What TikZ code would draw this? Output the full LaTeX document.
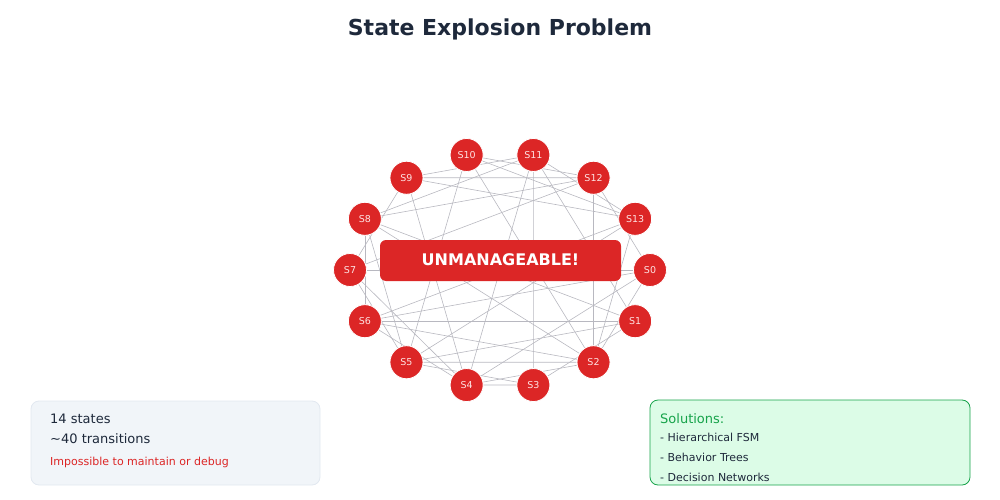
\documentclass[tikz,border=0pt]{standalone}
\usepackage{fontspec}
\setmainfont{DejaVu Sans}
\usetikzlibrary{backgrounds}
\definecolor{stred}{HTML}{DC2626}
\definecolor{titlec}{HTML}{1E293B}
\definecolor{edgec}{HTML}{B8B8C0}
\definecolor{lbfill}{HTML}{F1F5F9}
\definecolor{lbdraw}{HTML}{E2E8F0}
\definecolor{gfill}{HTML}{DCFCE7}
\definecolor{gdraw}{HTML}{16A34A}
\definecolor{stlab}{HTML}{FEE2E2}
\begin{document}
\begin{tikzpicture}[x=1pt,y=-1pt,
  st/.style={circle,fill=stred,draw=white,line width=0.8pt,minimum size=33pt,inner sep=0pt,text=stlab,font=\fontsize{9.5}{11}\selectfont},
  edge/.style={draw=edgec,line width=0.6pt},
  txt/.style={anchor=west,inner sep=0pt,text=titlec}]
\useasboundingbox (0,0) rectangle (1000,500);
\node[font=\fontsize{22}{26}\selectfont\bfseries,text=titlec] (title) at (500,29.5) {State Explosion Problem};
\foreach \k in {0,...,13}
  \node[st] (s\k) at ({500+150*cos(\k*360/14)},{270+118*sin(\k*360/14)}) {S\k};
\begin{scope}[on background layer]
\foreach \a/\b in {0/7,1/6,2/12,3/11,9/12,3/4,9/13,8/12,10/13,11/9,11/8,10/2,11/13,10/12,11/1,12/0,13/5,0/6,0/4,1/5,1/3,2/5,2/6,2/8,3/5,4/2,4/7,4/6,5/7,5/8,6/8,7/9,8/1,9/4,10/5,13/2,13/6,0/2,12/7,11/4}
  \draw[edge] (s\a) -- (s\b);
\end{scope}
\node[fill=stred,rounded corners=6pt,minimum width=241pt,minimum height=41pt,inner sep=0pt,text=white,font=\fontsize{16}{19}\selectfont\bfseries] (um) at (500.5,260.5) {\raisebox{1.5pt}{UNMANAGEABLE!}};
% left info box
\draw[fill=lbfill,draw=lbdraw,line width=0.8pt,rounded corners=8pt] (31,401) rectangle (320,485);
\node[txt,font=\fontsize{13}{15}\selectfont] (t1) at (50,418.5) {14 states};
\node[txt,font=\fontsize{13}{15}\selectfont] (t2) at (50,438.5) {\textasciitilde40 transitions};
\node[txt,font=\fontsize{11}{13}\selectfont,text=stred] (t3) at (50,462.5) {Impossible to maintain or debug};
% right solutions box
\draw[fill=gfill,draw=gdraw,line width=0.8pt,rounded corners=8pt] (650,400) rectangle (970,485);
\node[txt,font=\fontsize{13}{15}\selectfont,text=gdraw] (r0) at (660,418.5) {Solutions:};
\node[txt,font=\fontsize{11}{13}\selectfont] (r1) at (660,437.5) {- Hierarchical FSM};
\node[txt,font=\fontsize{11}{13}\selectfont] (r2) at (660,457.5) {- Behavior Trees};
\node[txt,font=\fontsize{11}{13}\selectfont] (r3) at (660,477.5) {- Decision Networks};
\end{tikzpicture}
\end{document}
